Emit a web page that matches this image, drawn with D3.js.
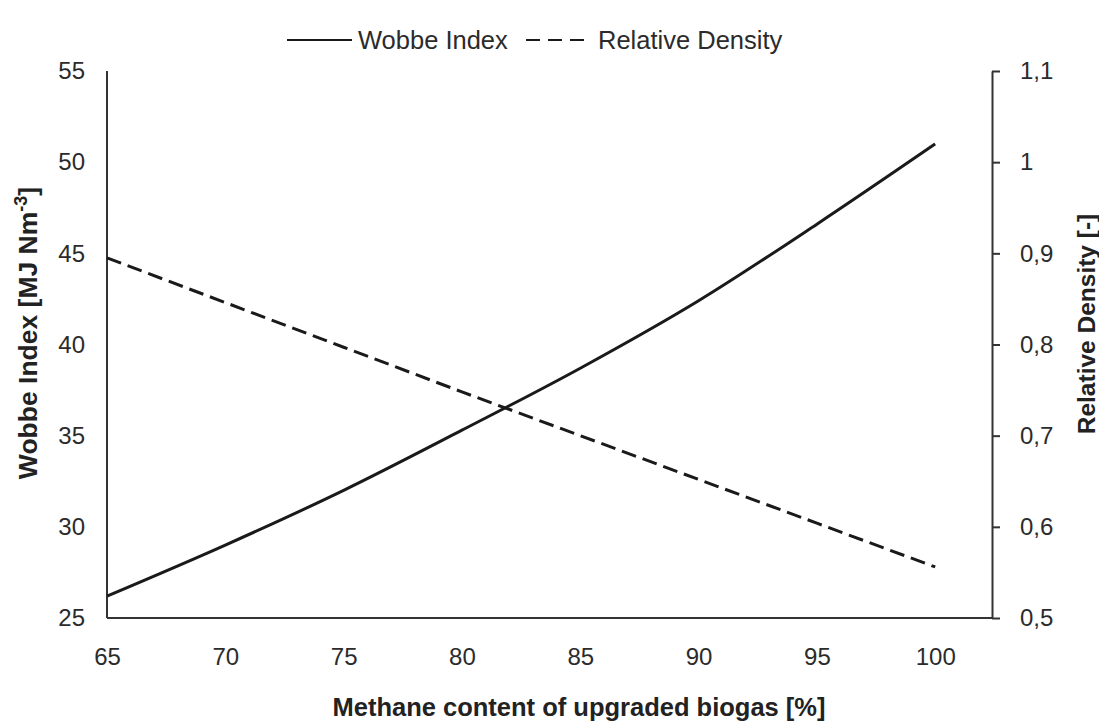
<!DOCTYPE html>
<html>
<head>
<meta charset="utf-8">
<script src="https://cdn.jsdelivr.net/npm/d3@7"></script>
<style>
  body { margin: 0; background: #fff; }
  svg text { font-family: "Liberation Sans", Arial, sans-serif; }
</style>
</head>
<body>
<div id="chart"></div>
<script>
// data
var methane = [65, 70, 75, 80, 85, 90, 95, 100];
var wobbe = [26.2, 29.0, 32.0, 35.3, 38.7, 42.4, 46.6, 51.0];
var density = [0.895, 0.846, 0.797, 0.748, 0.700, 0.652, 0.604, 0.556];
var xTicks = [65, 70, 75, 80, 85, 90, 95, 100];
var leftTicks = [25, 30, 35, 40, 45, 50, 55];
var rightTicks = [0.5, 0.6, 0.7, 0.8, 0.9, 1.0, 1.1];

var W = 1099, H = 722;
var margin = {top: 71, right: 107, bottom: 104, left: 107};
var width = W - margin.left - margin.right,
    height = H - margin.top - margin.bottom;

var svg = d3.select("#chart").append("svg")
    .attr("width", W)
    .attr("height", H);
var g = svg.append("g")
    .attr("transform", "translate(" + margin.left + "," + margin.top + ")");

var x = d3.scaleLinear().domain([65, 102.4]).range([0, width]);
var yL = d3.scaleLinear().domain([25, 55]).range([height, 0]);
var yR = d3.scaleLinear().domain([0.5, 1.1]).range([height, 0]);

var axisColor = "#333";
var textColor = "#2b2b2b";

// bottom axis
var xAxis = g.append("g")
    .attr("transform", "translate(0," + height + ")")
    .call(d3.axisBottom(x).tickValues(xTicks).tickSize(0).tickPadding(30));
xAxis.select(".domain").attr("stroke", axisColor).attr("stroke-width", 2)
    .attr("d", "M0,0H" + (width + 1));

// left axis
var lAxis = g.append("g")
    .call(d3.axisLeft(yL).tickValues(leftTicks).tickSize(0).tickPadding(22));
lAxis.select(".domain").attr("stroke", axisColor).attr("stroke-width", 2)
    .attr("d", "M0,0V" + height);

// right axis
var fmt = function(d) { return d3.format(".1~f")(d).replace(".", ","); };
var rAxis = g.append("g")
    .attr("transform", "translate(" + width + ",0)")
    .call(d3.axisRight(yR).tickValues(rightTicks).tickFormat(fmt).tickSizeInner(8).tickSizeOuter(0).tickPadding(20));
rAxis.select(".domain").attr("stroke", axisColor).attr("stroke-width", 2);
rAxis.selectAll(".tick line").attr("stroke", axisColor).attr("stroke-width", 2);

g.selectAll(".tick text")
    .attr("fill", textColor)
    .style("font-size", "24px");

// lines
var wobbeLine = d3.line()
    .x(function(d, i) { return x(methane[i]); })
    .y(function(d) { return yL(d); })
    .curve(d3.curveMonotoneX);
var densLine = d3.line()
    .x(function(d, i) { return x(methane[i]); })
    .y(function(d) { return yR(d); });

g.append("path")
    .datum(wobbe)
    .attr("d", wobbeLine)
    .attr("fill", "none")
    .attr("stroke", "#1a1a1a")
    .attr("stroke-width", 3);

g.append("path")
    .datum(density)
    .attr("d", densLine)
    .attr("fill", "none")
    .attr("stroke", "#1a1a1a")
    .attr("stroke-width", 3)
    .attr("stroke-dasharray", "15,7");

// axis titles
svg.append("text")
    .attr("x", 579)
    .attr("y", 716)
    .attr("text-anchor", "middle")
    .attr("fill", "#222")
    .style("font-size", "25.5px")
    .style("font-weight", "bold")
    .text("Methane content of upgraded biogas [%]");

var yl = svg.append("text")
    .attr("transform", "translate(37,333) rotate(-90)")
    .attr("text-anchor", "middle")
    .attr("fill", "#222")
    .style("font-size", "26.5px")
    .style("font-weight", "bold");
yl.append("tspan").text("Wobbe Index [MJ Nm");
yl.append("tspan").attr("dy", -10).style("font-size", "18px").text("-3");
yl.append("tspan").attr("dy", 10).text("]");

svg.append("text")
    .attr("transform", "translate(1095,324) rotate(-90)")
    .attr("text-anchor", "middle")
    .attr("fill", "#222")
    .style("font-size", "24.5px")
    .style("font-weight", "bold")
    .text("Relative Density [-]");

// legend
var legend = svg.append("g");
legend.append("line")
    .attr("x1", 287).attr("x2", 352).attr("y1", 40).attr("y2", 40)
    .attr("stroke", "#1a1a1a").attr("stroke-width", 2);
legend.append("text")
    .attr("x", 358).attr("y", 49)
    .attr("fill", textColor)
    .style("font-size", "25.5px")
    .text("Wobbe Index");
legend.append("line")
    .attr("x1", 526).attr("x2", 584).attr("y1", 40).attr("y2", 40)
    .attr("stroke", "#1a1a1a").attr("stroke-width", 2)
    .attr("stroke-dasharray", "14,8");
legend.append("text")
    .attr("x", 598).attr("y", 49)
    .attr("fill", textColor)
    .style("font-size", "25.5px")
    .text("Relative Density");
</script>
</body>
</html>
